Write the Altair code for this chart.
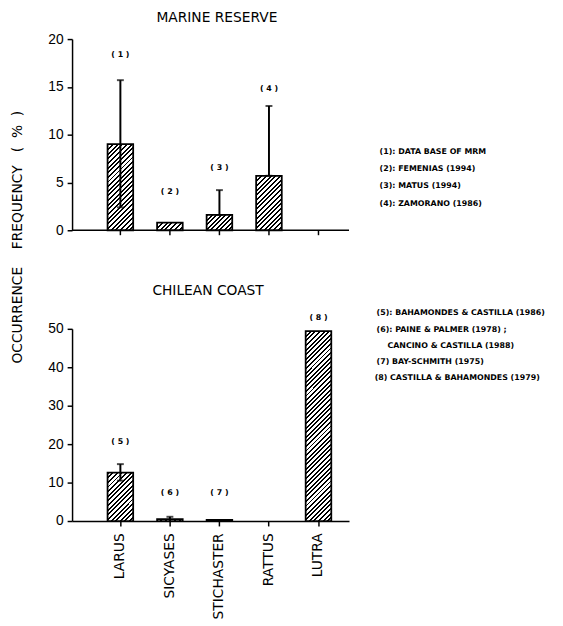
import math
import altair as alt
import pandas as pd

# ---------------- data ----------------
categories = ["LARUS", "SICYASES", "STICHASTER", "RATTUS", "LUTRA"]

reserve_freq = [9.0, 0.8, 1.6, 5.7, 0.0]
reserve_err_lo = [2.4, 0.8, 1.6, 5.7, 0.0]
reserve_err_hi = [15.7, 0.8, 4.2, 13.0, 0.0]
reserve_refs = ["( 1 )", "( 2 )", "( 3 )", "( 4 )", ""]
reserve_ref_y = [18.3, 4.0, 6.5, 14.8, 0.0]
reserve_ticks = [0, 5, 10, 15, 20]

coast_freq = [12.6, 0.5, 0.3, 0.0, 49.4]
coast_err_lo = [10.5, 0.0, 0.3, 0.0, 49.4]
coast_err_hi = [14.8, 1.1, 0.3, 0.0, 49.4]
coast_refs = ["( 5 )", "( 6 )", "( 7 )", "", "( 8 )"]
coast_ref_y = [20.5, 7.4, 7.4, 0.0, 52.8]
coast_ticks = [0, 10, 20, 30, 40, 50]

reserve_sources = [
    "(1): DATA BASE OF MRM",
    "(2): FEMENIAS (1994)",
    "(3): MATUS (1994)",
    "(4): ZAMORANO (1986)",
]
coast_sources = [
    "(5): BAHAMONDES & CASTILLA (1986)",
    "(6): PAINE & PALMER (1978) ;",
    "CANCINO & CASTILLA (1988)",
    "(7) BAY-SCHMITH (1975)",
    "(8) CASTILLA & BAHAMONDES (1979)",
]

NB = "\u00a0"
y_title = "OCCURRENCE" + NB * 4 + "FREQUENCY" + NB * 3 + "(" + NB * 2 + "%" + NB * 2 + ")"

# ---------------- layout ----------------
W = 281
TOP_RANGE = [194, 0]
BOT_RANGE = [489, 294]
H = 489
BAR_W = 26
FONT = "DejaVu Sans"

xscale = alt.Scale(type="band", domain=categories, paddingInner=0.483,
                   paddingOuter=0.5375, align=0.667)
xaxis = alt.Axis(title=None, orient="bottom", labelAngle=270, labelFont=FONT,
                 labelFontSize=14, labelColor="black", domainColor="black",
                 domainWidth=1.5, tickColor="black", tickWidth=1.5, tickSize=5,
                 labelPadding=7, grid=False)
X = alt.X("cat:N", scale=xscale, axis=xaxis, sort=categories)


def hatch(w, h, s=3.3, frac=0.42):
    k = (w + h) / (w * w + h * h)
    n = max(1, round((w + h) / (math.sqrt(2) * s)))
    stops = []
    for j in range(n):
        a, b, c = j / n, (j + frac) / n, (j + 1) / n
        stops += [
            alt.GradientStop(color="black", offset=a),
            alt.GradientStop(color="black", offset=b),
            alt.GradientStop(color="white", offset=b),
            alt.GradientStop(color="white", offset=c),
        ]
    return alt.LinearGradient(gradient="linear", stops=stops,
                              x1=0, y1=0, x2=k * w, y2=k * h)


def panel(freq, lo, hi, refs, ref_y, ymax, ticks, rng, top_baseline):
    df = pd.DataFrame({"cat": categories, "v": freq, "lo": lo, "hi": hi,
                       "ref": refs, "ry": ref_y, "z": [0.0] * len(categories)})
    yscale = alt.Scale(domain=[0, ymax], range=rng, nice=False, zero=True)
    yaxis = alt.Axis(title=None, orient="left", values=ticks, grid=False,
                     labelFont="Liberation Sans", labelFontSize=14,
                     labelColor="black", domainColor="black", domainWidth=1.5,
                     tickColor="black", tickWidth=1.5, tickSize=5, labelPadding=4)
    Y = lambda f: alt.Y(f, scale=yscale, axis=yaxis)
    ppu = (rng[0] - rng[1]) / ymax
    layers = []
    layers.append(alt.Chart(df).mark_rule(opacity=0).encode(x=X, y=Y("z:Q")))
    for i in range(len(df)):
        v = df.v[i]
        if v <= 0:
            continue
        layers.append(
            alt.Chart(df.iloc[[i]]).mark_bar(
                fill=hatch(BAR_W, v * ppu), stroke="black", strokeWidth=1.8
            ).encode(x=X, y=Y("v:Q"))
        )
    err = df[df.hi > df.lo]
    layers.append(alt.Chart(err).mark_rule(color="black", strokeWidth=2)
                  .encode(x=X, y=Y("lo:Q"), y2="hi:Q"))
    layers.append(alt.Chart(err).mark_tick(color="black", size=7, thickness=2)
                  .encode(x=X, y=Y("hi:Q")))
    layers.append(alt.Chart(err[err.lo > 0]).mark_tick(color="black", size=7, thickness=2)
                  .encode(x=X, y=Y("lo:Q")))
    notes = df[df.ref != ""]
    layers.append(alt.Chart(notes).mark_text(font=FONT, fontSize=8, fontWeight="bold",
                                             color="black", baseline="middle")
                  .encode(x=X, y=Y("ry:Q"), text="ref:N"))
    if top_baseline:
        base = pd.DataFrame({"z": [0.0]})
        layers.append(alt.Chart(base).mark_rule(color="black", strokeWidth=1.5)
                      .encode(x=alt.value(0), x2=alt.value(W), y=Y("z:Q")))
        layers.append(alt.Chart(df).mark_rule(color="black", strokeWidth=1.5, y2Offset=5)
                      .encode(x=X, y=Y("z:Q"), y2="z:Q"))
    return alt.layer(*layers)


top = panel(reserve_freq, reserve_err_lo, reserve_err_hi, reserve_refs,
            reserve_ref_y, 20, reserve_ticks, TOP_RANGE, True)
bottom = panel(coast_freq, coast_err_lo, coast_err_hi, coast_refs,
               coast_ref_y, 50, coast_ticks, BOT_RANGE, False)


def label(txt, px, py, size, weight="normal", align="left", angle=0, font=FONT):
    return alt.Chart(pd.DataFrame({"t": [txt]})).mark_text(
        font=font, fontSize=size, fontWeight=weight, align=align,
        baseline="middle", angle=angle, color="black"
    ).encode(x=alt.value(px), y=alt.value(py), text="t:N")


extras = [
    label("MARINE RESERVE", 147, -21, 14, align="center"),
    label("CHILEAN COAST", 138, 256, 14, align="center"),
    label(y_title, -55, 201, 14, align="center", angle=270),
]
for i, t in enumerate(reserve_sources):
    extras.append(label(t, 312, 115 + i * 17.3, 8, weight="bold"))
coast_pos = [(309, 278), (309, 295), (320, 311), (309, 328), (307, 344)]
for t, (px, py) in zip(coast_sources, coast_pos):
    extras.append(label(t, px, py, 8, weight="bold"))

chart = (
    alt.layer(top, bottom, *extras)
    .resolve_scale(y="independent")
    .properties(width=W, height=H,
                autosize=alt.AutoSizeParams(type="none"),
                padding={"left": 65, "top": 27, "right": 209, "bottom": 102})
    .configure_view(stroke=None)
)

chart.save("out.html", embed_options={"renderer": "svg", "actions": False})
